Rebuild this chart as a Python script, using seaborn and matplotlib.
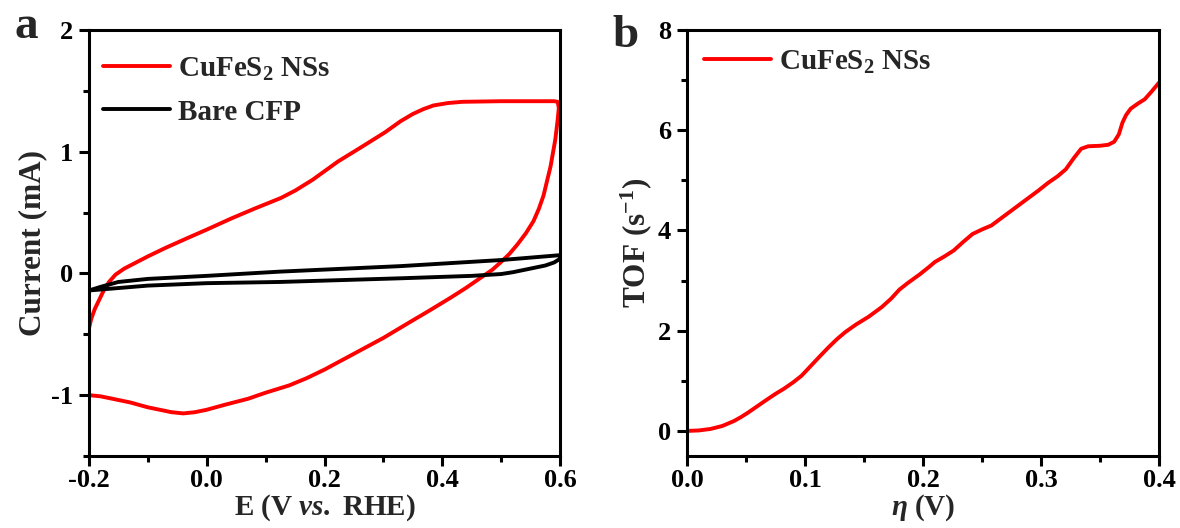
import numpy as np
import pandas as pd
import matplotlib
matplotlib.use("Agg")
import matplotlib.pyplot as plt
from matplotlib.ticker import MultipleLocator
import seaborn as sns

# ---- data ----
cv_cufes2_E = [-0.2, -0.196, -0.19, -0.183, -0.175, -0.166, -0.155, -0.14, -0.12, -0.1, -0.07,
               -0.033, 0.0, 0.041, 0.08, 0.126, 0.15, 0.18, 0.223, 0.26, 0.303, 0.329, 0.35,
               0.368, 0.385, 0.41, 0.434, 0.5, 0.55, 0.59, 0.596,
               0.598, 0.596, 0.592, 0.588, 0.584, 0.578, 0.572, 0.564, 0.555, 0.542, 0.528,
               0.514, 0.499, 0.485, 0.47, 0.44, 0.414, 0.38, 0.345, 0.3, 0.25, 0.2, 0.17,
               0.14, 0.1, 0.07, 0.03, 0.0, -0.02, -0.04, -0.06, -0.08, -0.1, -0.13, -0.16,
               -0.18, -0.2]
cv_cufes2_I = [-0.45, -0.37, -0.29, -0.22, -0.14, -0.07, -0.01, 0.04, 0.09, 0.14, 0.21,
               0.29, 0.36, 0.45, 0.53, 0.62, 0.68, 0.77, 0.92, 1.03, 1.16, 1.25, 1.31,
               1.35, 1.38, 1.40, 1.41, 1.415, 1.415, 1.415, 1.41,
               1.36, 1.26, 1.10, 0.99, 0.88, 0.76, 0.64, 0.53, 0.43, 0.33, 0.24,
               0.16, 0.09, 0.03, -0.02, -0.12, -0.20, -0.30, -0.40, -0.53, -0.66, -0.79, -0.86,
               -0.92, -0.98, -1.03, -1.08, -1.12, -1.14, -1.15, -1.14, -1.12, -1.10, -1.06, -1.03,
               -1.01, -1.0]

cv_bare_E = [-0.2, -0.18, -0.15, -0.1, 0.0, 0.125, 0.329, 0.5, 0.6,
             0.6, 0.59, 0.575, 0.55, 0.52, 0.5, 0.45, 0.329, 0.125, 0.0, -0.1, -0.15, -0.2]
cv_bare_I = [-0.14, -0.11, -0.07, -0.045, -0.02, 0.015, 0.06, 0.11, 0.15,
             0.12, 0.09, 0.065, 0.04, 0.01, -0.005, -0.02, -0.04, -0.07, -0.08, -0.10, -0.12, -0.14]

tof_eta = [0.0, 0.01, 0.02, 0.03, 0.04, 0.046, 0.052, 0.06, 0.068, 0.075, 0.082, 0.09, 0.097,
           0.105, 0.113, 0.12, 0.127, 0.134, 0.143, 0.154, 0.165, 0.173, 0.18, 0.187, 0.197,
           0.205, 0.21, 0.218, 0.226, 0.234, 0.242, 0.25, 0.258, 0.266, 0.274, 0.282, 0.29,
           0.298, 0.306, 0.314, 0.321, 0.328, 0.334, 0.34, 0.35, 0.357, 0.362, 0.366, 0.369,
           0.372, 0.376, 0.382, 0.388, 0.394, 0.4]
tof_val = [0.0, 0.01, 0.04, 0.1, 0.2, 0.28, 0.37, 0.5, 0.63, 0.74, 0.84, 0.97, 1.1,
           1.3, 1.5, 1.67, 1.83, 1.97, 2.12, 2.28, 2.47, 2.64, 2.82, 2.95, 3.12,
           3.27, 3.37, 3.48, 3.6, 3.77, 3.93, 4.02, 4.1, 4.24, 4.38, 4.52, 4.66,
           4.8, 4.95, 5.08, 5.22, 5.45, 5.63, 5.68, 5.69, 5.71, 5.77, 5.92, 6.15,
           6.3, 6.43, 6.53, 6.62, 6.78, 6.95]

label_cufes2 = r"CuFeS$_\mathbf{2}$ NSs"
label_bare = "Bare CFP"

# ---- style ----
sns.set_theme(style="ticks")
plt.rcParams.update({
    "font.family": ["Liberation Serif", "DejaVu Serif"],
    "font.weight": "bold",
    "axes.labelweight": "bold",
    "mathtext.fontset": "custom",
    "mathtext.rm": "Liberation Serif:bold",
    "mathtext.bf": "Liberation Serif:bold",
    "mathtext.it": "Liberation Serif:italic:bold",
    "axes.linewidth": 2.2,
    "axes.edgecolor": "black",
    "xtick.color": "black",
    "ytick.color": "black",
})

FS_TICK = 19
FS_LEG = 21
FS_LAB = 21
LW = 2.8

fig = plt.figure(figsize=(11.8, 5.28), dpi=100)
ax1 = fig.add_axes([89 / 1180, 1 - 456 / 528, (560 - 89) / 1180, (456 - 30) / 528])
ax2 = fig.add_axes([687 / 1180, 1 - 456 / 528, (1159 - 687) / 1180, (456 - 30) / 528])

df_cv1 = pd.DataFrame({"E": cv_cufes2_E, "I": cv_cufes2_I})
df_cv2 = pd.DataFrame({"E": cv_bare_E, "I": cv_bare_I})
df_tof = pd.DataFrame({"eta": tof_eta, "tof": tof_val})

sns.lineplot(data=df_cv1, x="E", y="I", sort=False, estimator=None, ax=ax1,
             color="#ff0000", lw=LW, label=label_cufes2)
sns.lineplot(data=df_cv2, x="E", y="I", sort=False, estimator=None, ax=ax1,
             color="black", lw=LW, label=label_bare)
sns.lineplot(data=df_tof, x="eta", y="tof", sort=False, estimator=None, ax=ax2,
             color="#ff0000", lw=LW, label=label_cufes2)

ax1.set_xlim(-0.2, 0.6)
ax1.set_ylim(-1.5, 2)
ax1.xaxis.set_minor_locator(MultipleLocator(0.1))
ax1.yaxis.set_minor_locator(MultipleLocator(0.5))
ax1.set_xticks([-0.2, 0.0, 0.2, 0.4, 0.6])
ax1.set_xticklabels(["-0.2", "0.0", "0.2", "0.4", "0.6"])
ax1.set_yticks([-1, 0, 1, 2])
ax1.set_yticklabels(["-1", "0", "1", "2"])

ax2.set_xlim(0, 0.4)
ax2.set_ylim(-0.5, 8)
ax2.xaxis.set_minor_locator(MultipleLocator(0.05))
ax2.yaxis.set_minor_locator(MultipleLocator(1))
ax2.set_xticks([0.0, 0.1, 0.2, 0.3, 0.4])
ax2.set_xticklabels(["0.0", "0.1", "0.2", "0.3", "0.4"])
ax2.set_yticks([0, 2, 4, 6, 8])
ax2.set_yticklabels(["0", "2", "4", "6", "8"])

legend_anchor = {ax1: (0.0174, 0.954), ax2: (0.0235, 0.970)}
for ax in (ax1, ax2):
    for s in ax.spines.values():
        s.set_visible(True)
        s.set_linewidth(2.2)
    ax.tick_params(which="major", direction="out", length=7.5, width=2.2, labelsize=FS_TICK,
                   pad=2, top=False, right=False)
    ax.tick_params(which="minor", direction="out", length=4.5, width=2.2, top=False, right=False)
    ax.tick_params(axis="y", which="major", pad=4)
    for lab in ax.get_xticklabels() + ax.get_yticklabels():
        lab.set_fontweight("bold")
    leg = ax.legend(loc="upper left", bbox_to_anchor=legend_anchor[ax], frameon=False,
                    handlelength=2.3, handletextpad=0.28, labelspacing=0.55,
                    borderaxespad=0.0, borderpad=0.2,
                    prop={"weight": "bold", "size": FS_LEG})
    for h in leg.get_lines():
        h.set_linewidth(LW)

ax1.set_xlabel(r"E (V $\mathit{vs.}$ RHE)", fontsize=FS_LAB, fontweight="bold", labelpad=0)
ax1.set_ylabel("Current (mA)", fontsize=22.5, fontweight="bold", labelpad=3)
ax2.set_xlabel(r"$\eta$ (V)", fontsize=FS_LAB, fontweight="bold", labelpad=0)
ax2.set_ylabel(r"TOF (s$^{\mathbf{-1}}$)", fontsize=22.5, fontweight="bold", labelpad=3)

fig.text(15 / 1180, 1 - 38 / 528, "a", fontsize=34, fontweight="bold", ha="left", va="baseline")
fig.text(612 / 1180, 1 - 47 / 528, "b", fontsize=34, fontweight="bold", ha="left", va="baseline")

fig.savefig("out.png", dpi=100)
